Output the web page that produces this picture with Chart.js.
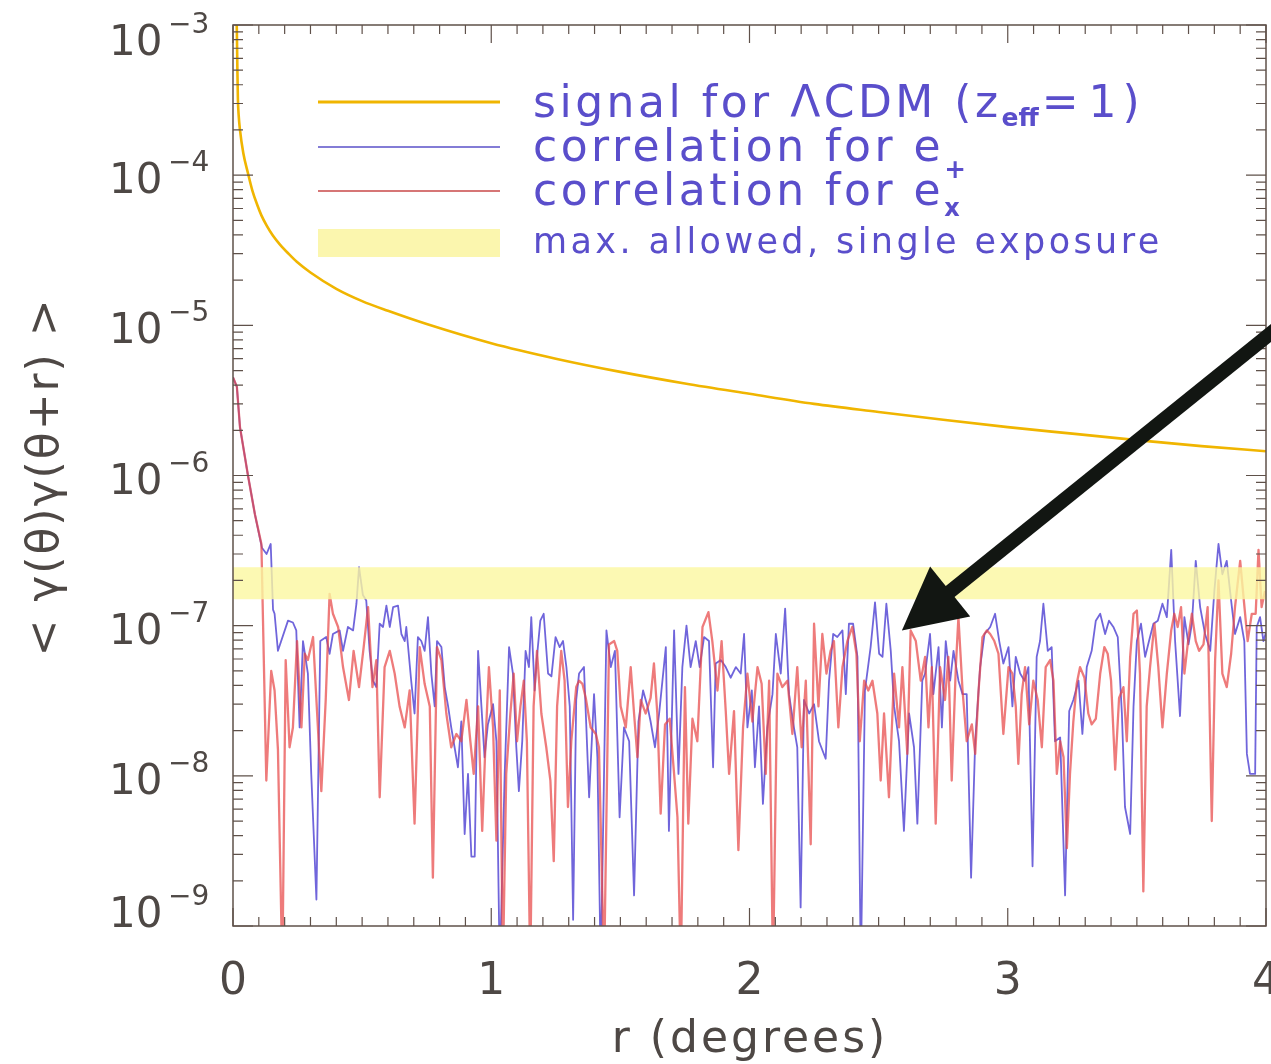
<!DOCTYPE html>
<html><head><meta charset="utf-8">
<script src="https://cdn.jsdelivr.net/npm/chart.js@4/dist/chart.umd.min.js"></script>
<style>html,body{margin:0;padding:0;background:#fff;overflow:hidden}canvas{display:block}</style>
</head><body>
<canvas id="c" width="1271" height="1064"></canvas>
<script>
// ---- data (r in degrees, correlation value) ----
const xTicks = [0, 1, 2, 3, 4];
const yExponents = [-3, -4, -5, -6, -7, -8, -9];
const bandRange = [1.5e-7, 2.45e-7];          // max. allowed, single exposure
const arrowFrom = [4.1, 1.15e-5];
const arrowTo = [2.59, 9.3e-8];

const signalPoints = [
 [0.013,1.2e-3],[0.015,9e-4],[0.017,5e-4],[0.019,3.2e-4],[0.022,2.5e-4],[0.027,2e-4],[0.04,1.4e-4],
 [0.058,1.03e-4],[0.075,7.9e-5],[0.093,6.4e-5],[0.11,5.4e-5],[0.131,4.6e-5],[0.155,3.95e-5],[0.182,3.45e-5],
 [0.215,3.0e-5],[0.247,2.65e-5],[0.3,2.25e-5],[0.4,1.75e-5],[0.5,1.45e-5],[0.6,1.25e-5],[0.75,1.02e-5],
 [1.0,7.6e-6],[1.25,6e-6],[1.5,4.9e-6],[1.75,4.1e-6],[2.0,3.5e-6],[2.25,3.0e-6],[2.5,2.65e-6],
 [2.75,2.35e-6],[3.0,2.1e-6],[3.25,1.9e-6],[3.5,1.72e-6],[3.75,1.57e-6],[4.0,1.45e-6]
];

const plusPoints = [
 [0,4.5e-6],[0.015,3.9e-6],[0.027,2.1e-6],[0.058,1.0e-6],[0.085,5.5e-7],[0.112,3.3e-7],[0.13,3.0e-7],
 [0.146,3.5e-7],[0.155,1.28e-7],[0.161,1.2e-7],[0.174,6.8e-8],[0.213,1.08e-7],[0.232,1.05e-7],[0.245,9.3e-8],
 [0.258,2.1e-8],[0.271,7.9e-8],[0.290,4.8e-8],[0.303,1.03e-8],[0.323,1.5e-9],[0.338,7.9e-8],[0.361,8.4e-8],
 [0.374,6.5e-8],[0.387,8.8e-8],[0.413,9.3e-8],[0.426,6.8e-8],[0.445,9.8e-8],[0.465,9.3e-8],[0.478,1.4e-7],
 [0.488,2.45e-7],[0.503,1.6e-7],[0.516,1.47e-7],[0.529,6.8e-8],[0.542,4.3e-8],[0.555,3.9e-8],[0.568,1.03e-7],
 [0.581,9.8e-8],[0.594,1.36e-7],[0.607,9.8e-8],[0.620,1.33e-7],[0.639,1.36e-7],[0.652,8.8e-8],[0.665,7.9e-8],
 [0.671,9.8e-8],[0.690,4.3e-8],[0.703,2.6e-8],[0.716,8.4e-8],[0.729,7.9e-8],[0.742,6.8e-8],[0.755,1.14e-7],
 [0.768,4.8e-8],[0.781,2.9e-8],[0.790,7.9e-8],[0.807,7.2e-8],[0.820,3.9e-8],[0.833,2.9e-8],[0.845,2.1e-8],
 [0.858,1.55e-8],[0.871,1.14e-8],[0.884,2.3e-8],[0.897,4.1e-9],[0.910,1.03e-8],[0.923,2.9e-9],[0.936,2.9e-9],
 [0.949,6.8e-8],[0.962,2.9e-8],[0.974,1.33e-8],[0.987,2.2e-8],[1.007,3.0e-8],[1.020,1.7e-8],[1.033,5e-10],
 [1.052,1.03e-8],[1.069,7.2e-8],[1.084,4.8e-8],[1.097,1.55e-8],[1.107,7.9e-9],[1.120,1.7e-8],[1.133,6.8e-8],
 [1.146,5.3e-8],[1.155,1.14e-7],[1.168,3.7e-8],[1.177,6.2e-8],[1.190,1.08e-7],[1.203,1.2e-7],[1.220,4.8e-8],
 [1.233,4.6e-8],[1.249,8.4e-8],[1.265,7.2e-8],[1.278,7.9e-8],[1.291,5.3e-8],[1.304,2.9e-8],[1.317,1.1e-9],
 [1.329,3.2e-8],[1.340,4.8e-8],[1.359,5.3e-8],[1.379,7.2e-9],[1.398,3.5e-8],[1.411,1.33e-8],[1.424,5e-10],
 [1.446,9.3e-8],[1.463,5.3e-8],[1.479,6.8e-8],[1.497,5.3e-9],[1.514,2.1e-8],[1.534,1.7e-8],[1.553,1.6e-9],
 [1.570,2.3e-8],[1.588,3.7e-8],[1.605,2.9e-8],[1.617,2.3e-8],[1.634,1.55e-8],[1.650,2.6e-8],[1.676,7.2e-8],
 [1.688,4.3e-9],[1.708,9.3e-8],[1.725,1.03e-8],[1.740,5.3e-8],[1.756,1.0e-7],[1.772,5.3e-8],[1.792,7.9e-8],
 [1.807,5.3e-8],[1.824,8.4e-8],[1.843,7.9e-8],[1.859,1.14e-8],[1.869,5.6e-8],[1.889,5.9e-8],[1.908,5.3e-8],
 [1.927,4.5e-8],[1.947,5.3e-8],[1.966,4.8e-8],[1.979,8.8e-8],[1.992,2.1e-8],[2.009,3.7e-8],[2.021,1.14e-8],
 [2.037,2.9e-8],[2.052,6.5e-9],[2.069,2.1e-8],[2.089,3.5e-8],[2.102,8.8e-8],[2.121,4.8e-8],[2.138,1.3e-7],
 [2.153,3.5e-8],[2.172,2.1e-8],[2.185,1.55e-8],[2.198,1.33e-9],[2.211,3.2e-8],[2.231,2.6e-8],[2.250,3.0e-8],
 [2.269,1.7e-8],[2.295,1.3e-8],[2.308,4.3e-8],[2.324,8.8e-8],[2.340,8.4e-8],[2.360,9.3e-8],[2.373,3.5e-8],
 [2.385,1.03e-7],[2.401,1.03e-7],[2.418,6.2e-8],[2.431,5e-10],[2.447,3.7e-8],[2.469,7.2e-8],[2.486,1.43e-7],
 [2.502,6.5e-8],[2.515,6.2e-8],[2.530,1.4e-7],[2.547,6.8e-8],[2.560,2.9e-8],[2.579,1.7e-8],[2.598,4.3e-9],
 [2.618,2.6e-8],[2.637,1.55e-8],[2.650,4.8e-9],[2.669,4.3e-8],[2.680,4.8e-8],[2.699,8.8e-8],[2.712,3.5e-8],
 [2.732,7.2e-8],[2.745,2.1e-8],[2.760,7.9e-8],[2.777,4.3e-8],[2.790,6.8e-8],[2.809,4.3e-8],[2.825,3.5e-8],
 [2.841,3.5e-8],[2.858,2.1e-9],[2.874,1.7e-8],[2.893,5.3e-8],[2.910,8.8e-8],[2.932,9.8e-8],[2.951,1.2e-7],
 [2.967,7.9e-8],[2.983,5.6e-8],[3.003,7.2e-8],[3.018,2.9e-8],[3.031,6.2e-8],[3.048,4.8e-8],[3.065,4.3e-8],
 [3.080,5.3e-8],[3.096,2.5e-9],[3.112,6.2e-8],[3.125,7.9e-8],[3.138,1.4e-7],[3.155,6.8e-8],[3.170,7.2e-8],
 [3.183,1.7e-8],[3.203,1.8e-8],[3.222,1.6e-9],[3.238,2.7e-8],[3.254,3.2e-8],[3.274,4.3e-8],[3.289,1.9e-8],
 [3.306,5.3e-8],[3.325,6.8e-8],[3.341,1.08e-7],[3.358,1.2e-7],[3.377,8.8e-8],[3.392,1.08e-7],[3.409,9.8e-8],
 [3.426,8.4e-8],[3.442,2.6e-8],[3.454,6.2e-9],[3.474,4.1e-9],[3.487,2.9e-8],[3.500,7.9e-8],[3.516,1.03e-7],
 [3.532,6.2e-8],[3.547,7.9e-8],[3.564,1.03e-7],[3.581,1.08e-7],[3.599,1.4e-7],[3.616,1.14e-7],[3.633,3.2e-7],
 [3.648,7.9e-8],[3.667,2.5e-8],[3.684,1.14e-7],[3.700,7.5e-8],[3.713,1.03e-7],[3.728,2.7e-7],[3.745,1.33e-7],
 [3.764,8.8e-8],[3.784,6.8e-8],[3.800,1.7e-7],[3.816,3.5e-7],[3.831,2.2e-7],[3.848,2.7e-7],[3.865,1.47e-7],
 [3.880,8.8e-8],[3.900,1.14e-7],[3.916,7.9e-8],[3.926,1.4e-8],[3.938,1.03e-8],[3.958,1.03e-8],[3.964,9.8e-8],
 [3.977,1.14e-7],[3.990,7.9e-8],[4.0,9.0e-8]
];

const crossPoints = [
 [0,4.5e-6],[0.015,3.9e-6],[0.027,2.1e-6],[0.058,1.0e-6],[0.085,5.5e-7],[0.110,3.5e-7],[0.129,9.3e-9],
 [0.148,5.0e-8],[0.161,3.7e-8],[0.174,1.5e-8],[0.191,5e-10],[0.204,5.9e-8],[0.219,1.55e-8],[0.232,2.1e-8],
 [0.248,7.9e-8],[0.265,2.1e-8],[0.278,6.5e-8],[0.290,5.9e-8],[0.310,8.4e-8],[0.323,3.2e-8],[0.342,7.9e-9],
 [0.359,3.2e-8],[0.374,1.63e-7],[0.387,1.2e-7],[0.407,9.8e-8],[0.426,5.3e-8],[0.449,3.2e-8],[0.467,6.8e-8],
 [0.488,3.9e-8],[0.506,7.2e-8],[0.523,1.33e-7],[0.540,3.9e-8],[0.555,5.9e-8],[0.568,7.2e-9],[0.587,5.3e-8],
 [0.607,6.8e-8],[0.626,4.8e-8],[0.645,2.9e-8],[0.665,2.1e-8],[0.684,3.7e-8],[0.703,4.8e-9],[0.723,7.2e-8],
 [0.742,4.1e-8],[0.762,2.9e-8],[0.774,2.1e-9],[0.790,7.2e-8],[0.807,5.9e-8],[0.826,2.6e-8],[0.845,1.55e-8],
 [0.865,1.9e-8],[0.884,1.7e-8],[0.904,3.2e-8],[0.919,1.7e-8],[0.932,1.03e-8],[0.949,2.9e-8],[0.965,4.3e-9],
 [0.978,1.7e-8],[0.991,5.3e-8],[1.007,2.1e-8],[1.020,3.7e-9],[1.033,3.7e-8],[1.045,5e-10],[1.058,1.03e-8],
 [1.074,2.6e-8],[1.087,4.8e-8],[1.100,1.7e-8],[1.113,2.9e-8],[1.126,4.3e-8],[1.138,1.7e-8],[1.151,5e-10],
 [1.164,2.9e-8],[1.177,6.8e-8],[1.194,2.6e-8],[1.213,1.55e-8],[1.229,9.3e-9],[1.242,2.7e-9],[1.255,2.9e-8],
 [1.271,6.8e-8],[1.284,4.3e-8],[1.297,6.2e-9],[1.310,1.7e-8],[1.329,3.9e-8],[1.340,4.3e-8],[1.353,4.1e-8],
 [1.366,3.3e-8],[1.385,2.1e-8],[1.405,1.9e-8],[1.417,1.55e-8],[1.437,5e-10],[1.456,7.5e-8],[1.476,7.9e-8],
 [1.488,6.8e-8],[1.501,2.9e-8],[1.521,2.1e-8],[1.540,5.3e-8],[1.553,2.6e-8],[1.566,1.33e-8],[1.579,3.2e-8],
 [1.598,2.6e-8],[1.617,3.3e-8],[1.630,5.6e-8],[1.643,2.6e-8],[1.656,5.6e-9],[1.673,2.2e-8],[1.691,2.4e-8],
 [1.708,1.03e-8],[1.721,5.3e-9],[1.734,5e-10],[1.750,3.9e-8],[1.763,4.8e-9],[1.779,2.4e-8],[1.798,1.7e-8],
 [1.818,9.8e-8],[1.841,1.23e-7],[1.856,7.9e-8],[1.876,3.7e-8],[1.892,7.9e-8],[1.908,2.7e-8],[1.921,1.03e-8],
 [1.940,2.7e-8],[1.957,3.2e-9],[1.975,2.1e-8],[1.992,4.8e-8],[2.011,2.3e-8],[2.031,5.3e-8],[2.047,4.1e-8],
 [2.063,1.03e-8],[2.076,4.3e-8],[2.091,5e-10],[2.108,4.8e-8],[2.127,3.9e-8],[2.147,4.3e-8],[2.166,1.9e-8],
 [2.185,5.3e-8],[2.202,1.55e-8],[2.218,4.3e-8],[2.237,3.5e-9],[2.250,1.03e-7],[2.267,2.9e-8],[2.282,8.8e-8],
 [2.298,4.8e-8],[2.314,6.8e-8],[2.327,7.9e-8],[2.344,2.1e-8],[2.360,5.3e-8],[2.379,7.9e-8],[2.398,9.8e-8],
 [2.414,6.5e-8],[2.427,1.7e-8],[2.444,4.3e-8],[2.460,3.7e-8],[2.476,4.3e-8],[2.495,2.6e-8],[2.508,9.3e-9],
 [2.521,2.6e-8],[2.540,7.2e-9],[2.560,4.8e-8],[2.579,2.1e-8],[2.592,5.3e-8],[2.611,1.4e-8],[2.624,9.3e-8],
 [2.644,7.9e-8],[2.663,4.3e-8],[2.680,6.2e-8],[2.693,2.1e-8],[2.706,5.3e-8],[2.721,4.8e-9],[2.738,5.3e-8],
 [2.757,3.2e-8],[2.770,6.2e-8],[2.783,9.3e-9],[2.799,5.3e-8],[2.809,1.14e-7],[2.825,3.7e-8],[2.841,1.7e-8],
 [2.861,2.2e-8],[2.874,1.4e-8],[2.887,3.7e-8],[2.902,8.4e-8],[2.919,9.3e-8],[2.932,8.8e-8],[2.948,7.9e-8],
 [2.964,6.5e-8],[2.983,1.9e-8],[3.003,5.3e-8],[3.018,4.8e-8],[3.031,2.9e-8],[3.041,1.2e-8],[3.054,3.5e-8],
 [3.067,5.3e-8],[3.083,2.2e-8],[3.099,4.3e-8],[3.116,3.2e-8],[3.132,1.55e-8],[3.147,5.3e-8],[3.164,5.9e-8],
 [3.177,4.3e-8],[3.190,1.03e-8],[3.203,1.7e-8],[3.216,1.33e-8],[3.229,3.3e-9],[3.241,1.03e-8],[3.254,2.3e-8],
 [3.267,4.1e-8],[3.280,5.3e-8],[3.297,4.5e-8],[3.312,2.6e-8],[3.325,2.2e-8],[3.341,2.4e-8],[3.358,4.8e-8],
 [3.374,7.2e-8],[3.387,6.5e-8],[3.400,4.3e-8],[3.416,1.1e-8],[3.431,3.3e-8],[3.448,3.9e-8],[3.461,1.7e-8],
 [3.474,6.2e-8],[3.487,1.2e-7],[3.500,1.26e-7],[3.512,4.8e-8],[3.525,1.7e-9],[3.538,2.9e-8],[3.551,5.3e-8],
 [3.568,1.03e-7],[3.583,5.3e-8],[3.599,2.1e-8],[3.616,4.8e-8],[3.633,9.3e-8],[3.645,1.2e-7],[3.658,9.8e-8],
 [3.671,1.33e-7],[3.684,4.8e-8],[3.700,8.4e-8],[3.713,1.2e-7],[3.728,7.9e-8],[3.741,6.8e-8],[3.758,7.5e-8],
 [3.774,1.33e-7],[3.790,5.0e-9],[3.803,5.9e-8],[3.816,2.0e-7],[3.831,4.8e-8],[3.848,3.9e-8],[3.865,6.5e-8],
 [3.880,1.33e-7],[3.900,2.7e-7],[3.913,1.55e-7],[3.929,7.9e-8],[3.945,1.2e-7],[3.960,1.2e-7],[3.971,3.2e-7],
 [3.983,1.33e-7],[3.996,1.7e-7]
];

// ---- styling ----
const FONT = '"DejaVu Sans", "Liberation Sans", sans-serif';
const AXIS_COLOR = '#5f514a';
const LABEL_COLOR = '#4e4845';
const LEGEND_TEXT = '#5a4ecb';
const C_SIGNAL = '#f0b500';
const C_PLUS = 'rgba(92,80,214,0.88)';
const C_CROSS = 'rgba(232,72,72,0.72)';

const toXY = a => a.map(p => ({x: p[0], y: p[1]}));

function drawTextRuns(ctx, x, runs) {
  let cx = x;
  for (const r of runs) {
    ctx.font = r.font;
    ctx.letterSpacing = r.ls || '0px';
    ctx.fillText(r.text, cx, r.y);
    cx += ctx.measureText(r.text).width + (r.gap || 0);
  }
  ctx.letterSpacing = '0px';
}

const decor = {
  id: 'decor',
  afterDatasetsDraw(chart) {
    const {ctx, chartArea: a, scales: {y}} = chart;
    const yTop = y.getPixelForValue(bandRange[1]);
    const yBot = y.getPixelForValue(bandRange[0]);
    ctx.save();
    ctx.fillStyle = 'rgba(251,247,160,0.8)';
    ctx.fillRect(a.left, yTop, a.right - a.left, yBot - yTop);
    ctx.restore();
  },
  afterDraw(chart) {
    const {ctx, chartArea: a, scales: {x, y}} = chart;
    ctx.save();
    // frame
    ctx.strokeStyle = AXIS_COLOR;
    ctx.lineWidth = 1.5;
    ctx.strokeRect(a.left, a.top, a.right - a.left, a.bottom - a.top);
    // x ticks
    ctx.lineWidth = 1.2;
    ctx.beginPath();
    for (let i = 0; i <= 40; i++) {
      const v = i / 10;
      const px = x.getPixelForValue(v);
      const len = (i % 10 === 0) ? 18 : 9;
      ctx.moveTo(px, a.bottom); ctx.lineTo(px, a.bottom - len);
      ctx.moveTo(px, a.top); ctx.lineTo(px, a.top + len);
    }
    // y ticks
    for (let e = -9; e <= -3; e++) {
      const py = y.getPixelForValue(Math.pow(10, e));
      ctx.moveTo(a.left, py); ctx.lineTo(a.left + 20, py);
      ctx.moveTo(a.right, py); ctx.lineTo(a.right - 20, py);
      if (e < -3) {
        for (let k = 2; k <= 9; k++) {
          const pm = y.getPixelForValue(k * Math.pow(10, e));
          ctx.moveTo(a.left, pm); ctx.lineTo(a.left + 10, pm);
          ctx.moveTo(a.right, pm); ctx.lineTo(a.right - 10, pm);
        }
      }
    }
    ctx.stroke();

    // y tick labels 10^n
    ctx.fillStyle = LABEL_COLOR;
    ctx.textAlign = 'left';
    ctx.textBaseline = 'alphabetic';
    yExponents.forEach(e => {
      const py = y.getPixelForValue(Math.pow(10, e));
      let c = py + 3;
      if (e === -3) c = py + 15;
      if (e === -9) c = py - 14;
      ctx.font = '42px ' + FONT;
      ctx.fillText('10', 109, c + 15);
      ctx.font = '28px ' + FONT;
      ctx.fillText('\u2212' + Math.abs(e), 168, c - 7);
    });

    // axis titles
    ctx.font = '44px ' + FONT;
    ctx.letterSpacing = '3px';
    ctx.textAlign = 'center';
    ctx.fillText('r (degrees)', 750, 1052);
    ctx.save();
    ctx.translate(47, 477);
    ctx.rotate(-Math.PI / 2);
    ctx.textBaseline = 'middle';
    ctx.letterSpacing = '2px';
    ctx.fillText('< \u03b3(\u03b8)\u03b3(\u03b8+r) >', 0, 0);
    ctx.restore();
    ctx.letterSpacing = '0px';

    // legend
    ctx.textAlign = 'left';
    ctx.lineCap = 'butt';
    ctx.strokeStyle = C_SIGNAL; ctx.lineWidth = 3;
    ctx.beginPath(); ctx.moveTo(318, 102); ctx.lineTo(500, 102); ctx.stroke();
    ctx.strokeStyle = '#5a50c8'; ctx.lineWidth = 1.5;
    ctx.beginPath(); ctx.moveTo(318, 147); ctx.lineTo(500, 147); ctx.stroke();
    ctx.strokeStyle = '#c84848'; ctx.lineWidth = 1.5;
    ctx.beginPath(); ctx.moveTo(318, 191); ctx.lineTo(500, 191); ctx.stroke();
    ctx.fillStyle = '#fbf6ae';
    ctx.fillRect(318, 229, 182, 28);

    ctx.fillStyle = LEGEND_TEXT;
    const big = '44px ' + FONT;
    drawTextRuns(ctx, 533, [
      {text: 'signal for \u039bCDM (z', font: big, ls: '3.5px', y: 117},
      {text: 'eff', font: 'bold 25px ' + FONT, ls: '0px', y: 126, gap: 3},
      {text: '=', font: big, ls: '0px', y: 117, gap: 10},
      {text: '1)', font: big, ls: '6px', y: 117}
    ]);
    drawTextRuns(ctx, 533, [
      {text: 'correlation for e', font: big, ls: '3.5px', y: 161},
      {text: '+', font: 'bold 26px ' + FONT, ls: '0px', y: 178}
    ]);
    drawTextRuns(ctx, 533, [
      {text: 'correlation for e', font: big, ls: '3.5px', y: 205},
      {text: 'x', font: 'bold 24px ' + FONT, ls: '0px', y: 216}
    ]);
    drawTextRuns(ctx, 533, [
      {text: 'max. allowed, single exposure', font: '35px ' + FONT, ls: '3.4px', y: 253}
    ]);

    // arrow
    const sx = x.getPixelForValue(arrowFrom[0]), sy = y.getPixelForValue(arrowFrom[1]);
    const tx = x.getPixelForValue(arrowTo[0]), ty = y.getPixelForValue(arrowTo[1]);
    const dx = tx - sx, dy = ty - sy, len = Math.hypot(dx, dy);
    const ux = dx / len, uy = dy / len, nx = -uy, ny = ux;
    const L = 62, W = 32;
    const bx = tx - ux * L, by = ty - uy * L;
    ctx.strokeStyle = '#121612'; ctx.fillStyle = '#121612';
    ctx.lineWidth = 14;
    ctx.beginPath(); ctx.moveTo(sx, sy); ctx.lineTo(bx + ux * 4, by + uy * 4); ctx.stroke();
    ctx.beginPath();
    ctx.moveTo(tx, ty);
    ctx.lineTo(bx + nx * W, by + ny * W);
    ctx.lineTo(bx - nx * W, by - ny * W);
    ctx.closePath(); ctx.fill();
    ctx.restore();
  }
};

new Chart(document.getElementById('c').getContext('2d'), {
  type: 'line',
  data: {
    datasets: [
      {label: 'signal for \u039bCDM (z_eff=1)', data: toXY(signalPoints), borderColor: C_SIGNAL, borderWidth: 2.6, pointRadius: 0, order: 0, cubicInterpolationMode: 'monotone'},
      {label: 'correlation for e_x', data: toXY(crossPoints), borderColor: C_CROSS, borderWidth: 2.3, pointRadius: 0, order: 1, borderJoinStyle: 'round'},
      {label: 'correlation for e_+', data: toXY(plusPoints), borderColor: C_PLUS, borderWidth: 1.8, pointRadius: 0, order: 2, borderJoinStyle: 'round'}
    ]
  },
  options: {
    responsive: false,
    animation: false,
    devicePixelRatio: 1,
    layout: {padding: {top: 25, right: 5, left: 0, bottom: 0}},
    plugins: {legend: {display: false}, tooltip: {enabled: false}},
    scales: {
      x: {
        type: 'linear', min: 0, max: 4,
        afterBuildTicks: s => { s.ticks = xTicks.map(v => ({value: v})); },
        grid: {display: false, drawTicks: false},
        border: {display: false},
        ticks: {font: {family: FONT, size: 44}, color: LABEL_COLOR, padding: 30, maxRotation: 0, autoSkip: false},
        afterFit: s => { s.height = 138; s.paddingLeft = 0; s.paddingRight = 0; }
      },
      y: {
        type: 'logarithmic', min: 1e-9, max: 1e-3,
        grid: {display: false, drawTicks: false},
        border: {display: false},
        ticks: {display: false},
        afterFit: s => { s.width = 233; s.paddingTop = 0; s.paddingBottom = 0; }
      }
    }
  },
  plugins: [decor]
});
</script>
</body></html>
